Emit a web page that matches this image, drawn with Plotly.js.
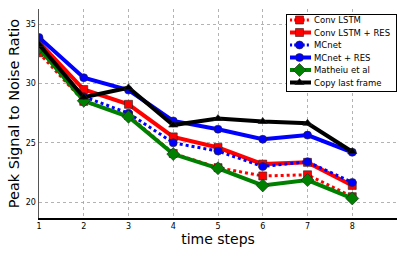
<!DOCTYPE html>
<html>
<head>
<meta charset="utf-8">
<script src="https://cdn.plot.ly/plotly-3.0.1.min.js"></script>
<style>html,body{margin:0;padding:0;background:#fff;}#chart{width:407px;height:255px;}</style>
</head>
<body>
<div id="chart"></div>
<script>
const timeSteps = [1, 2, 3, 4, 5, 6, 7, 8];
const convLSTM = [32.6, 28.5, 27.3, 24.1, 22.9, 22.2, 22.3, 20.45];
const convLSTMRes = [33.5, 29.5, 28.25, 25.5, 24.6, 23.2, 23.35, 21.4];
const mcnet = [33.0, 28.9, 27.5, 25.0, 24.3, 23.0, 23.4, 21.65];
const mcnetRes = [33.9, 30.5, 29.45, 26.85, 26.15, 25.3, 25.65, 24.2];
const matheiu = [33.0, 28.55, 27.2, 24.05, 22.85, 21.4, 21.85, 20.3];
const copyLast = [33.3, 28.85, 29.65, 26.5, 27.05, 26.8, 26.65, 24.25];
const seriesNames = ["Conv LSTM", "Conv LSTM + RES", "MCnet", "MCnet + RES", "Matheiu et al", "Copy last frame"];

const traces = [
  {y: convLSTM, color: "#ff0000", dash: "dot", symbol: "square", w: 3},
  {y: convLSTMRes, color: "#ff0000", dash: "solid", symbol: "square", w: 4},
  {y: mcnet, color: "#0000ff", dash: "dot", symbol: "circle", w: 3},
  {y: mcnetRes, color: "#0000ff", dash: "solid", symbol: "circle", w: 4},
  {y: matheiu, color: "#008000", dash: "solid", symbol: "diamond", w: 4},
  {y: copyLast, color: "#000000", dash: "solid", symbol: "triangle-up", w: 4}
].map((s, i) => ({
  x: timeSteps, y: s.y, name: seriesNames[i], type: "scatter", mode: "lines+markers",
  line: {color: s.color, width: s.w, dash: s.dash},
  marker: {color: s.color, symbol: s.symbol, size: s.symbol === "diamond" ? 10 : 8,
           line: {color: "#222", width: 0.6}}
}));

const axisFont = {family: "DejaVu Sans", size: 8, color: "#000"};
const layout = {
  width: 407, height: 255,
  margin: {l: 39, r: 10, t: 9, b: 37},
  paper_bgcolor: "#fff", plot_bgcolor: "#fff",
  font: {family: "DejaVu Sans", color: "#000"},
  showlegend: true,
  legend: {x: 0.6, y: 0.98, xanchor: "left", yanchor: "top",
           bordercolor: "#000", borderwidth: 1, bgcolor: "#fff",
           font: {family: "DejaVu Sans", size: 8.5}, tracegroupgap: 0, itemwidth: 30},
  xaxis: {range: [1, 9], tickvals: timeSteps, ticktext: timeSteps.map(String),
          tickfont: axisFont, showgrid: true, gridcolor: "#a0a0a0", griddash: "dot", gridwidth: 0.8,
          zeroline: false, showline: true, linecolor: "#000", linewidth: 1.5,
          ticks: "", title: {text: "time steps", font: {family: "DejaVu Sans", size: 14}, standoff: 4}},
  yaxis: {range: [18.65, 36.3], tickvals: [20, 25, 30, 35], ticktext: ["20", "25", "30", "35"],
          tickfont: axisFont, showgrid: true, gridcolor: "#a0a0a0", griddash: "dot", gridwidth: 0.8,
          zeroline: false, showline: true, linecolor: "#555", linewidth: 1.5,
          ticks: "", title: {text: "Peak Signal to Noise Ratio", font: {family: "DejaVu Sans", size: 14.5}, standoff: 2}}
};
Plotly.newPlot("chart", traces, layout, {displayModeBar: false, staticPlot: true}).then(() => {
  // compact the legend to match the reference's matplotlib legend box
  const legend = document.querySelector("#chart g.legend");
  if (!legend) return;
  const boxLeft = 286, boxTop = 14, boxH = 77;
  const step = 12.5, first = 6, textShift = 13;
  legend.setAttribute("transform", "translate(" + boxLeft + "," + boxTop + ")");
  legend.querySelectorAll(".traces").forEach((g, i) => {
    const m = /translate\(([-\d.]+)[ ,]+([-\d.]+)\)/.exec(g.getAttribute("transform") || "");
    const tx = m ? m[1] : "1";
    g.setAttribute("transform", "translate(" + tx + "," + (first + i * step) + ")");
    const lines = g.querySelector(".legendlines");
    if (lines) lines.setAttribute("transform", "translate(-0.5,0) scale(0.7,1)");
    const pts = g.querySelector(".legendpoints");
    if (pts) pts.setAttribute("transform", "translate(-7.5,0)");
    const t = g.querySelector("text.legendtext");
    if (t) {
      const x = parseFloat(t.getAttribute("x") || "40");
      t.setAttribute("x", x - textShift);
      t.querySelectorAll("tspan[x]").forEach(ts => ts.setAttribute("x", parseFloat(ts.getAttribute("x")) - textShift));
    }
  });
  legend.querySelectorAll("rect.bg").forEach(r => {
    r.setAttribute("height", boxH);
    r.setAttribute("width", parseFloat(r.getAttribute("width")) - textShift);
  });
  document.querySelectorAll("#chart clipPath[id*='legend'] rect").forEach(r => r.setAttribute("height", boxH));
});
</script>
</body>
</html>
